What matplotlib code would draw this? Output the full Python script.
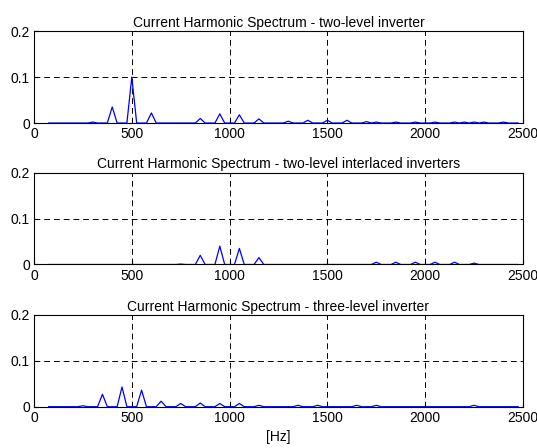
import numpy as np
import matplotlib
matplotlib.use('Agg')
import matplotlib.pyplot as plt

plt.rcParams['font.family'] = ['Liberation Sans', 'DejaVu Sans']

# frequency axis of the spectrum [Hz]
freqs = np.arange(75, 2476, 25)

# harmonic amplitudes: {frequency: amplitude}
two_level = {300: 0.002, 400: 0.035, 500: 0.1, 600: 0.022, 850: 0.01,
             950: 0.02, 1050: 0.018, 1150: 0.009, 1300: 0.004, 1400: 0.006,
             1500: 0.006, 1600: 0.006, 1700: 0.003, 1750: 0.002, 1850: 0.002,
             1950: 0.002, 2050: 0.002, 2150: 0.002, 2200: 0.002, 2250: 0.002,
             2300: 0.002, 2400: 0.002}
interlaced = {750: 0.001, 850: 0.02, 950: 0.04, 1050: 0.035, 1150: 0.015,
              1750: 0.005, 1850: 0.005, 1950: 0.005, 2050: 0.005,
              2150: 0.005, 2250: 0.003}
three_level = {250: 0.002, 350: 0.027, 450: 0.043, 550: 0.036, 650: 0.012,
               750: 0.007, 850: 0.008, 950: 0.007, 1050: 0.007, 1150: 0.003,
               1350: 0.003, 1450: 0.003, 1650: 0.003, 1750: 0.003, 2250: 0.003}

titles = ["Current Harmonic Spectrum - two-level inverter",
          "Current Harmonic Spectrum - two-level interlaced inverters",
          "Current Harmonic Spectrum - three-level inverter"]


def to_spectrum(peaks):
    return np.array([peaks.get(int(f), 0.0) for f in freqs])


fig = plt.figure(figsize=(5.37, 4.48), dpi=100)
bottoms = [0.7254, 0.4096, 0.0922]

for bottom, peaks, title in zip(bottoms, [two_level, interlaced, three_level], titles):
    ax = fig.add_axes([0.0633, bottom, 0.9106, 0.2050])
    ax.plot(freqs, to_spectrum(peaks), color=(0, 0, 1), linewidth=0.9)
    ax.set_xlim(0, 2500)
    ax.set_ylim(0, 0.2)
    ax.set_xticks(np.arange(0, 2501, 500))
    ax.set_yticks([0, 0.1, 0.2])
    ax.set_yticklabels(["0", "0.1", "0.2"])
    ax.grid(True, color="black", linestyle=(0, (6, 4)), linewidth=0.7)
    ax.tick_params(direction="in", length=3, labelsize=10, pad=3)
    for sp in ax.spines.values():
        sp.set_linewidth(0.8)
    ax.set_title(title, fontsize=10, pad=3)

ax.set_xlabel("[Hz]", fontsize=10, labelpad=4)

fig.savefig("out.png", dpi=100)
